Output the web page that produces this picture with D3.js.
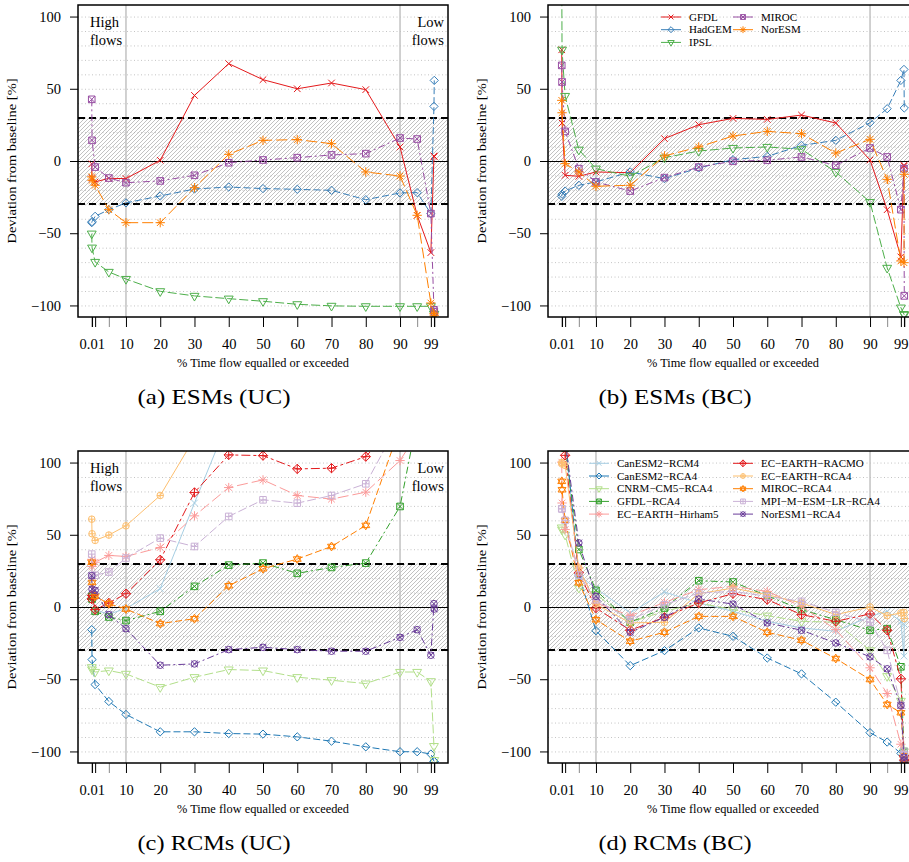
<!DOCTYPE html>
<html lang="en">
<head>
<meta charset="UTF-8" />
<title>Flow duration curve deviations</title>
<style>
  body { margin: 0; background: #fff; }
  svg text { font-family: "Liberation Serif", "Times New Roman", serif; fill: #000; }
</style>
</head>
<body>
<svg id="chart" width="909" height="862"></svg>
<script src="https://d3js.org/d3.v7.min.js"></script>
<script>
// % of time a flow is equalled or exceeded (x positions of every series)
const pctTime = [0.01, 0.1, 1, 5, 10, 20, 30, 40, 50, 60, 70, 80, 90, 95, 99, 99.9, 99.99];
const xLabelTicks = [0.01, 10, 20, 30, 40, 50, 60, 70, 80, 90, 99];
const yTicks = [-100, -50, 0, 50, 100];
const yGrid = d3.range(-100, 101, 10);

// ESMs
const esmModels = ["GFDL", "HadGEM", "IPSL", "MIROC", "NorESM"];
const esmColors = ["#E41A1C", "#377EB8", "#4DAF4A", "#984EA3", "#FF7F00"];
const esmSymbols = [4, 5, 6, 7, 8];
const esmUC = [
  [-2, -12, -14.5, -12, -12.2, 0.5, 45.4, 67.4, 56.3, 50, 54, 49.4, 9.7, -37.6, -63.4, 3.5, 3],
  [-42.7, -42, -38.3, -33.7, -29, -24.2, -19.4, -18, -19.1, -19.6, -20.3, -26.8, -22.1, -21.9, -36.4, 37.8, 55.8],
  [-50.3, -60, -69.9, -76.8, -81.7, -90.2, -93.4, -95.3, -97.1, -99.2, -100.3, -100.6, -100.6, -100.6, -100.6, -105.7, -106],
  [42.7, 14.3, -4.2, -11.8, -15, -13.8, -9.9, -1.2, 0.7, 2.3, 4.2, 5.1, 15.9, 15.2, -36.4, -103, -104.5],
  [-11, -13.4, -16.8, -33.7, -42.7, -42.7, -18.5, 4.6, 14.3, 14.8, 12, -7.6, -10.4, -37.6, -98.3, -105.7, -106.8]
];
const esmBC = [
  [77, 26.3, -9.9, -10.6, -7.6, -8.1, 15.5, 25.1, 29.5, 28.8, 31.8, 26.3, 0.7, -33.7, -66.4, -3, -3.5],
  [-24.5, -23, -20.8, -16.8, -14.5, -7.6, -12.2, -4.8, 0.9, 3.2, 10.8, 14.3, 26.5, 36.2, 55.8, 63.4, 36.7],
  [130, 77, 45, 7.8, -5.3, -10.6, 2.3, 6.9, 9, 9.7, 8.1, -7.6, -28.4, -74, -101.5, -106, -106.5],
  [66.2, 54.7, 20.5, -5.3, -14.5, -20.8, -11.5, -4.2, -0.2, 0.5, 2.8, -3, 9, 2.8, -33.7, -5.3, -93.4],
  [42, 33.4, -1.8, -7.6, -17.5, -16.8, 3.5, 9.7, 17.3, 20.5, 18.9, 5.5, 15, -12.7, -69.2, -70.4, -9.2]
];

// RCMs
const rcmModels = ["CanESM2\u2212RCM4", "CanESM2\u2212RCA4", "CNRM\u2212CM5\u2212RCA4", "GFDL\u2212RCA4",
  "EC\u2212EARTH\u2212Hirham5", "EC\u2212EARTH\u2212RACMO", "EC\u2212EARTH\u2212RCA4", "MIROC\u2212RCA4",
  "MPI\u2212M\u2212ESM\u2212LR\u2212RCA4", "NorESM1\u2212RCA4"];
const rcmColors = ["#A6CEE3", "#1F78B4", "#B2DF8A", "#33A02C", "#FB9A99", "#E31A1C", "#FDBF6F", "#FF7F00", "#CAB2D6", "#6A3D9A"];
const rcmSymbols = [4, 5, 6, 7, 8, 9, 10, 11, 12, 13];
const rcmUC = [
  [20, 8, -2, -5, -1, 12.7, 72, 130, 140, 140, 140, 140, 150, 150, 150, 150, 150],
  [-15.7, -36.4, -53.7, -65.4, -74.4, -86.4, -86.4, -87.6, -88, -89.9, -92.9, -96.8, -100.2, -100.2, -101.8, -106.7, -107],
  [-41.7, -43.3, -45, -44, -46.3, -55.5, -48.6, -43.3, -44, -48.6, -50.7, -53, -45, -45, -51.4, -96.3, -106],
  [7.4, 5.5, -3, -6.9, -9.4, -3, 14.3, 29, 30.4, 23.3, 27.4, 30.4, 69.6, 130, 160, 170, 170],
  [33, 28, 31, 35.7, 35, 41.2, 63.1, 82.7, 88, 77.2, 74.7, 79.5, 101.4, 120, 130, 130, 130],
  [5.5, 8, -1.8, 2.8, 9.2, 32.7, 79.3, 105.3, 104.8, 95.6, 96.1, 104.1, 130, 140, 150, 150, 150],
  [60.8, 50.7, 46.1, 49.8, 56.2, 77.2, 117, 140, 150, 150, 150, 150, 150, 150, 150, 150, 150],
  [30.9, 17, 7.4, 2.3, -1.4, -11.5, -8.1, 14.7, 26.5, 33.2, 41.9, 56.5, 124.5, 140, 150, 150, 150],
  [36.6, 21.7, 22, 24.2, 33.9, 47.7, 41.9, 62.7, 74.2, 71.9, 77.2, 85.3, 129, 140, 150, 150, 150],
  [21.7, 12.4, 11.5, -5.3, -15, -40.3, -39.4, -29.5, -27.9, -29.5, -30.6, -30.6, -21, -15.7, -33.4, 2.3, -1.4]
];
const rcmBC = [
  [150, 130, 115, 22, 13, -4.1, 10.4, 2.8, -3, -9.9, -14.5, -16.8, -6.5, -3, -10, -34, -12],
  [160, 140, 120, 22, -16.4, -40.6, -30.2, -14.5, -20.3, -35.3, -46.3, -65.9, -87, -93.5, -101.3, -106, -107],
  [55, 53.5, 50, 13.3, 9, -10.6, -3, 2.8, -1.8, -6, -9.9, -10.6, -30, -47.9, -65, -100, -104],
  [140, 120, 110, 39.8, 11.5, -10.6, -0.7, 18.2, 17.3, 7.8, -1.8, -8.8, -16.1, -15, -41.4, -100, -105],
  [100.3, 72, 53.6, 27, 2.8, -6, 3.2, 12, 14.3, 10.8, 0.5, -15.7, -42.1, -59.9, -95, -104, -106],
  [130, 115, 105, 23.7, -0.7, -16.1, -7.1, 2.8, 9.2, 5.1, -5.3, -9.9, -4.8, -16.1, -49.7, -103, -106],
  [100, 99, 98, 27, 2, -11, -10.6, 9.2, 13.1, 8.5, 2.8, -5.3, 0, -6, -4.1, -3.7, -8],
  [87, 81.2, 60, 16.8, -8.8, -23.7, -17.5, -6.5, -6.5, -17.5, -23, -35.7, -50.2, -67.5, -73.2, -103, -106],
  [68, 67.9, 60, 22, 5, -8.8, 1.6, 9.7, 10.8, 7.4, 3.9, -3.7, -10.6, -30, -68, -100, -103],
  [150, 130, 115, 44.4, 7.4, -17.5, -7.1, 5.5, 2, -11, -16.1, -24.9, -34.5, -42.8, -68.2, -104, -106]
];

const captions = ["(a) ESMs (UC)", "(b) ESMs (BC)", "(c) RCMs (UC)", "(d) RCMs (BC)"];

const svg = d3.select("#chart");
const plotW = 370, plotH = 312;
const x = d3.scaleLinear().domain([-4, 104]).range([0, plotW]);
const y = d3.scaleLinear().domain([-108, 108]).range([plotH, 0]);

// R-like line types, a bit longer than R's defaults
const dashes = [null, "7,3", "9,3", "7,3,2,3", "11,4", "3,3,9,3"];

const defs = svg.append("defs");
const pat = defs.append("pattern").attr("id", "hatch")
  .attr("patternUnits", "userSpaceOnUse").attr("width", 4).attr("height", 4);
pat.append("path").attr("d", "M-1,1 l2,-2 M0,4 l4,-4 M3,5 l2,-2")
  .attr("stroke", "#a8a8a8").attr("stroke-width", 0.7);
defs.append("clipPath").attr("id", "plotclip")
  .append("rect").attr("width", plotW).attr("height", plotH);

// marker paths, close to R's pch glyphs
function symbolPath(pch, r) {
  const s2 = Math.SQRT2 * r;
  const X = a => `M${-a},${-a}L${a},${a}M${-a},${a}L${a},${-a}`;
  const P = a => `M${-a},0L${a},0M0,${-a}L0,${a}`;
  const sq = a => `M${-a},${-a}H${a}V${a}H${-a}Z`;
  const dm = a => `M0,${-a}L${a},0L0,${a}L${-a},0Z`;
  const circ = a => `M${a},0A${a},${a} 0 1,1 ${-a},0A${a},${a} 0 1,1 ${a},0Z`;
  switch (pch) {
    case 4: return X(r);
    case 5: return dm(1.2533 * r);
    case 6: {
      const a = 1.555 * r, b = 1.347 * r, c = 0.778 * r;
      return `M${-b},${-c}L${b},${-c}L0,${a}Z`;
    }
    case 7: return sq(r) + X(r);
    case 8: return X(r) + P(s2);
    case 9: return dm(s2) + P(s2);
    case 10: return circ(r) + P(r);
    case 11: {
      const a = 1.35 * r, b = 1.2 * r, c = 0.68 * r;
      return `M0,${-a}L${b},${c}L${-b},${c}Z M0,${a}L${b},${-c}L${-b},${-c}Z`;
    }
    case 12: return sq(r) + P(r);
    case 13: return circ(r) + X(r);
  }
}

function drawPanel(px, py, values, models, colors, symbols, opts) {
  const g = svg.append("g").attr("transform", `translate(${px},${py})`);

  // dotted horizontal grid
  g.append("g").selectAll("line").data(yGrid).join("line")
    .attr("x1", 0).attr("x2", plotW)
    .attr("y1", d => y(d) + 0.5).attr("y2", d => y(d) + 0.5)
    .attr("stroke", "#b5b5b5").attr("stroke-width", 0.8).attr("stroke-dasharray", "1,2.5");

  // hatched band of +-30%
  g.append("rect").attr("x", 0).attr("width", plotW)
    .attr("y", y(30)).attr("height", y(-30) - y(30))
    .attr("fill", "url(#hatch)");

  // high / low flow boundaries
  g.append("g").selectAll("line").data([10, 90]).join("line")
    .attr("x1", d => x(d)).attr("x2", d => x(d))
    .attr("y1", 0).attr("y2", plotH)
    .attr("stroke", "#c2c2c2").attr("stroke-width", 1.5);

  g.append("line").attr("x1", 0).attr("x2", plotW)
    .attr("y1", y(0) + 0.5).attr("y2", y(0) + 0.5)
    .attr("stroke", "#000").attr("stroke-width", 1);
  g.append("g").selectAll("line").data([30, -30]).join("line")
    .attr("x1", 0).attr("x2", plotW)
    .attr("y1", d => Math.round(y(d))).attr("y2", d => Math.round(y(d)))
    .attr("stroke", "#000").attr("stroke-width", 2).attr("stroke-dasharray", "7,4");

  // series
  const data = g.append("g").attr("clip-path", "url(#plotclip)");
  const line = d3.line().x((d, i) => x(pctTime[i])).y(d => y(d));
  values.forEach((vals, k) => {
    data.append("path").datum(vals)
      .attr("d", line)
      .attr("fill", "none")
      .attr("stroke", colors[k]).attr("stroke-width", 1)
      .attr("stroke-dasharray", dashes[k % 6]);
    data.append("g").selectAll("path").data(vals).join("path")
      .attr("transform", (d, i) => `translate(${x(pctTime[i])},${y(d)})`)
      .attr("d", symbolPath(symbols[k], 3.3))
      .attr("fill", "none").attr("stroke", colors[k]).attr("stroke-width", 1);
  });

  // axes
  const yAxis = g.append("g")
    .call(d3.axisLeft(y).tickValues(yTicks).tickSize(8).tickPadding(9).tickFormat(d3.format("d")));
  yAxis.select(".domain").remove();
  yAxis.selectAll("text").attr("font-size", 14.5).attr("font-family", null);
  yAxis.selectAll("line").attr("stroke-width", 1);

  const xAxis = g.append("g").attr("transform", `translate(0,${plotH})`)
    .call(d3.axisBottom(x).tickValues(pctTime).tickSize(10).tickPadding(12)
      .tickFormat(d => xLabelTicks.includes(d) ? String(d) : ""));
  xAxis.select(".domain").remove();
  xAxis.selectAll("text").attr("font-size", 14.5).attr("font-family", null);
  xAxis.selectAll(".tick line").attr("stroke-width", 1)
    .attr("stroke", d => (d === 5 || d === 95) ? "#8a8a8a" : "#000");

  g.append("rect").attr("width", plotW).attr("height", plotH)
    .attr("fill", "none").attr("stroke", "#000").attr("stroke-width", 1.5);

  g.append("text").attr("x", plotW / 2).attr("y", plotH + 50)
    .attr("text-anchor", "middle").attr("font-size", 12.5)
    .attr("textLength", 172).attr("lengthAdjust", "spacingAndGlyphs")
    .text("% Time flow equalled or exceeded");
  g.append("text")
    .attr("transform", `translate(${-62},${plotH / 2}) rotate(-90)`)
    .attr("text-anchor", "middle").attr("font-size", 13.5)
    .attr("textLength", 165).attr("lengthAdjust", "spacingAndGlyphs")
    .text("Deviation from baseline [%]");

  if (opts.flowText) {
    const hi = g.append("text").attr("font-size", 14.5);
    hi.append("tspan").attr("x", 12).attr("y", 22).text("High");
    hi.append("tspan").attr("x", 12).attr("y", 40).text("flows");
    const lo = g.append("text").attr("font-size", 14.5).attr("text-anchor", "end");
    lo.append("tspan").attr("x", plotW - 4).attr("y", 22).text("Low");
    lo.append("tspan").attr("x", plotW - 4).attr("y", 40).text("flows");
  }

  if (opts.legend) {
    const L = opts.legend;
    const rows = Math.ceil(models.length / 2);
    models.forEach((m, k) => {
      const col = Math.floor(k / rows), row = k % rows;
      const lx = L.cols[col], ly = L.top + row * 12.7;
      const item = g.append("g").attr("transform", `translate(${lx},${ly})`);
      item.append("line").attr("x1", 0).attr("x2", 20)
        .attr("stroke", colors[k]).attr("stroke-width", 1);
      item.append("path").attr("transform", "translate(10,0)")
        .attr("d", symbolPath(symbols[k], 2.4))
        .attr("fill", "none").attr("stroke", colors[k]);
      item.append("text").attr("x", 28).attr("dy", "0.33em")
        .attr("font-size", 11).text(m);
    });
  }

  g.append("text").attr("x", opts.capX).attr("y", plotH + 87)
    .attr("text-anchor", "middle").attr("font-size", 22)
    .attr("textLength", 153).attr("lengthAdjust", "spacingAndGlyphs")
    .text(opts.caption);
}

drawPanel(78, 5, esmUC, esmModels, esmColors, esmSymbols,
  { flowText: true, caption: captions[0], capX: 136 });
drawPanel(548, 5, esmBC, esmModels, esmColors, esmSymbols,
  { legend: { cols: [113, 185], top: 12 }, caption: captions[1], capX: 127 });
drawPanel(78, 451, rcmUC, rcmModels, rcmColors, rcmSymbols,
  { flowText: true, caption: captions[2], capX: 136 });
drawPanel(548, 451, rcmBC, rcmModels, rcmColors, rcmSymbols,
  { legend: { cols: [41, 185], top: 12.3 }, caption: captions[3], capX: 127 });
</script>
</body>
</html>
